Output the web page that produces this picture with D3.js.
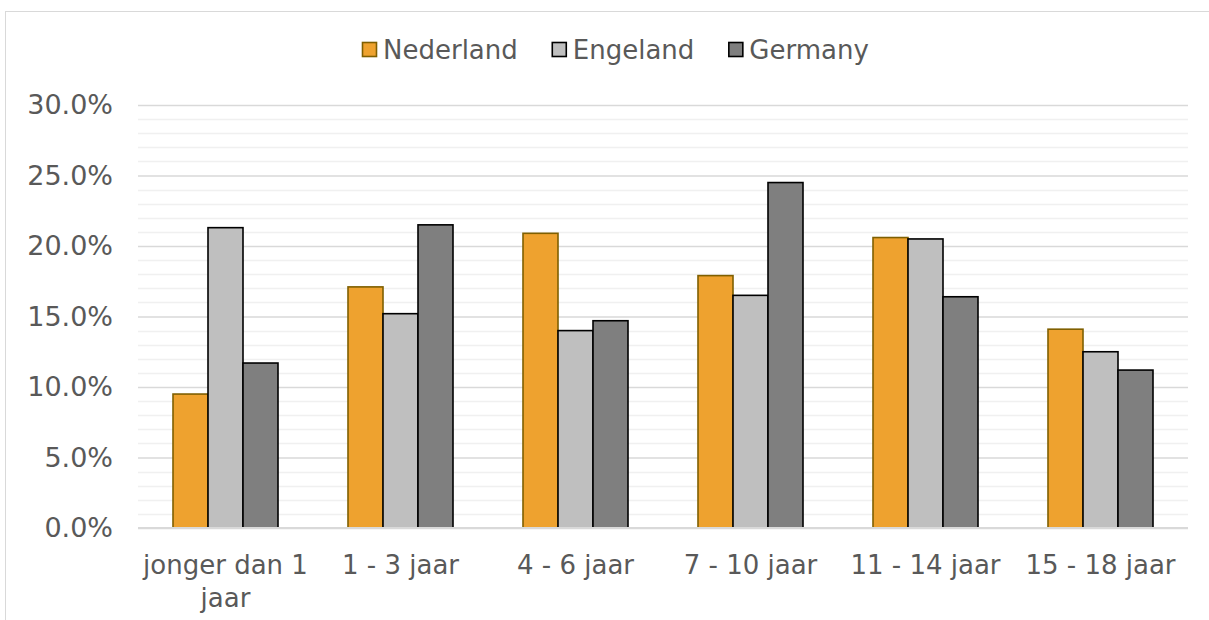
<!DOCTYPE html>
<html>
<head>
<meta charset="utf-8">
<script src="https://cdn.jsdelivr.net/npm/d3@7/dist/d3.min.js"></script>
<style>
  html, body { margin: 0; padding: 0; background: #ffffff; }
  svg { display: block; font-family: "DejaVu Sans", Verdana, sans-serif; }
</style>
</head>
<body>
<svg id="chart" width="1209" height="620"></svg>
<script>
const categories = ["jonger dan 1 jaar", "1 - 3 jaar", "4 - 6 jaar", "7 - 10 jaar", "11 - 14 jaar", "15 - 18 jaar"];
const seriesNames = ["Nederland", "Engeland", "Germany"];
const nederland = [9.5, 17.1, 20.9, 17.9, 20.6, 14.1];
const engeland  = [21.3, 15.2, 14.0, 16.5, 20.5, 12.5];
const germany   = [11.7, 21.5, 14.7, 24.5, 16.4, 11.2];
const yTicks = [0, 5, 10, 15, 20, 25, 30];
const yMinorTicks = d3.range(0, 31, 1);

const fills = ["#EEA22F", "#BFBFBF", "#7F7F7F"];
const strokes = ["#7F5F00", "#000000", "#000000"];
const seriesValues = [nederland, engeland, germany];

const svg = d3.select("#chart");
const W = 1209, H = 620;
const plot = { left: 138, right: 1188, top: 105, bottom: 528 };
const FONT = 26;
const textColor = "#595959";

// chart border
svg.append("rect")
  .attr("x", 5.5).attr("y", 11.5)
  .attr("width", W + 10).attr("height", H + 10)
  .attr("fill", "#ffffff").attr("stroke", "#d9d9d9").attr("stroke-width", 1);

const x0 = d3.scaleBand().domain(categories).range([plot.left, plot.right]).paddingInner(0).paddingOuter(0);
const groupPad = 0.2;
const x1 = d3.scaleBand().domain(seriesNames)
  .range([0, x0.step() * (1 - 2 * groupPad)]).padding(0);
const y = d3.scaleLinear().domain([0, 30]).range([plot.bottom, plot.top]);

// minor gridlines
svg.append("g").selectAll("line").data(yMinorTicks.filter(t => t % 5 !== 0)).join("line")
  .attr("x1", plot.left).attr("x2", plot.right)
  .attr("y1", d => Math.round(y(d)) + 0.5).attr("y2", d => Math.round(y(d)) + 0.5)
  .attr("stroke", "#f0f0f0").attr("stroke-width", 1.5);

// major gridlines via axis
const yAxis = d3.axisLeft(y).tickValues(yTicks).tickSize(-(plot.right - plot.left)).tickPadding(25)
  .tickFormat(d => d.toFixed(1) + "%");
const gy = svg.append("g").attr("transform", `translate(${plot.left},0)`).call(yAxis);
gy.select(".domain").remove();
gy.selectAll(".tick line").attr("stroke", "#d9d9d9").attr("stroke-width", 1.5);
gy.selectAll(".tick text").attr("fill", textColor).attr("font-size", 27)
  .attr("font-family", "DejaVu Sans, Verdana, sans-serif");

// bars
const groups = svg.append("g").selectAll("g").data(categories).join("g")
  .attr("transform", d => `translate(${x0(d) + x0.step() * groupPad},0)`);
groups.selectAll("rect")
  .data((d, i) => seriesNames.map((s, k) => ({ s, k, v: seriesValues[k][i] })))
  .join("rect")
  .attr("x", d => x1(d.s))
  .attr("width", x1.bandwidth())
  .attr("y", d => y(d.v))
  .attr("height", d => y(0) - y(d.v))
  .attr("fill", d => fills[d.k])
  .attr("stroke", d => strokes[d.k])
  .attr("stroke-width", 1.6);

// baseline
svg.append("line")
  .attr("x1", plot.left).attr("x2", plot.right)
  .attr("y1", y(0)).attr("y2", y(0))
  .attr("stroke", "#d9d9d9").attr("stroke-width", 2);

// x axis labels
const xAxis = d3.axisBottom(x0).tickSize(0).tickPadding(28);
const gx = svg.append("g").attr("transform", `translate(0,${plot.bottom})`).call(xAxis);
gx.select(".domain").remove();
gx.selectAll(".tick text").attr("fill", textColor).attr("font-size", FONT)
  .attr("font-family", "DejaVu Sans, Verdana, sans-serif")
  .call(wrap, x0.step() + 6);

function wrap(texts, width) {
  texts.each(function () {
    const text = d3.select(this);
    const words = text.text().split(/\s+/);
    const yAttr = text.attr("y"), dy = parseFloat(text.attr("dy")) || 0;
    text.text(null);
    let line = [];
    let lineNumber = 0;
    let tspan = text.append("tspan").attr("x", 0).attr("y", yAttr).attr("dy", dy + "em");
    for (const w of words) {
      line.push(w);
      tspan.text(line.join(" "));
      if (tspan.node().getComputedTextLength() > width && line.length > 1) {
        line.pop();
        tspan.text(line.join(" "));
        line = [w];
        lineNumber++;
        tspan = text.append("tspan").attr("x", 0).attr("y", yAttr)
          .attr("dy", (lineNumber * 1.27 + dy) + "em").text(w);
      }
    }
  });
}

// legend
const legend = svg.append("g");
let lx = 362;
seriesNames.forEach((name, k) => {
  legend.append("rect")
    .attr("x", lx + 0.5).attr("y", 42.5).attr("width", 14).attr("height", 14)
    .attr("fill", fills[k]).attr("stroke", strokes[k]).attr("stroke-width", 1.6);
  const t = legend.append("text")
    .attr("x", lx + 21).attr("y", 50).attr("dy", "0.35em")
    .attr("fill", textColor).attr("font-size", FONT)
    .text(name);
  lx = lx + 21 + t.node().getComputedTextLength() + 34;
});
</script>
</body>
</html>
